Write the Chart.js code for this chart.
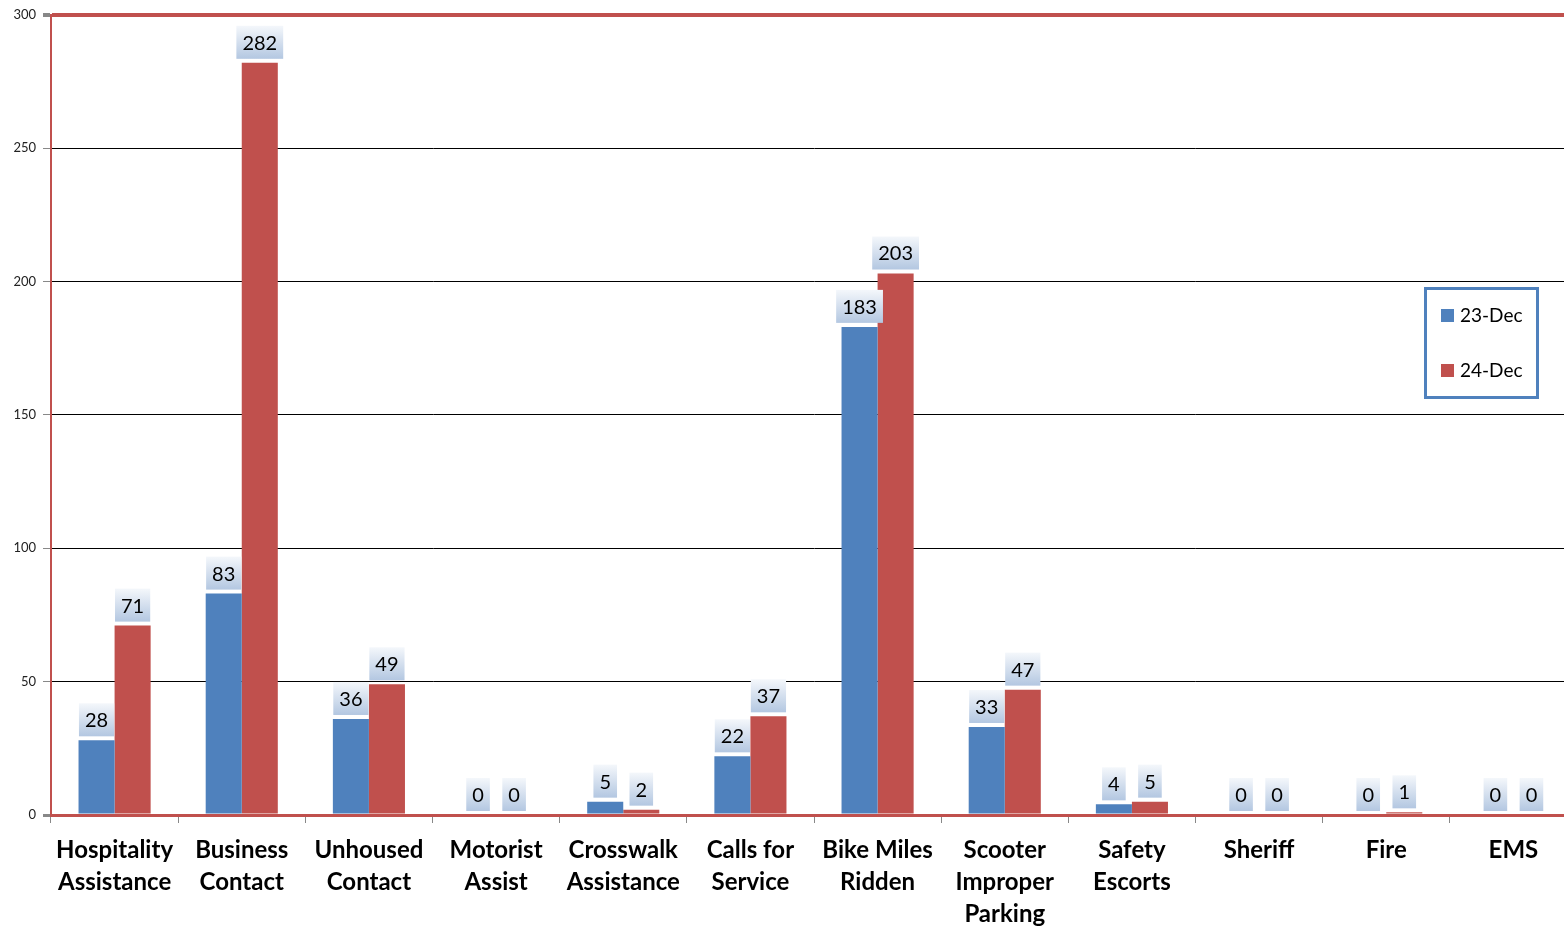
<!DOCTYPE html>
<html>
<head>
<meta charset="utf-8">
<script src="https://cdn.jsdelivr.net/npm/chart.js@4.4.1/dist/chart.umd.min.js"></script>
<style>
html,body{margin:0;padding:0;background:#fff;overflow:hidden;width:1564px;height:927px;}
canvas{display:block;}
</style>
</head>
<body>
<canvas id="c" width="1600" height="927"></canvas>
<script>
const categories = [
  ["Hospitality","Assistance"],
  ["Business","Contact"],
  ["Unhoused","Contact"],
  ["Motorist","Assist"],
  ["Crosswalk","Assistance"],
  ["Calls for","Service"],
  ["Bike Miles","Ridden"],
  ["Scooter","Improper","Parking"],
  ["Safety","Escorts"],
  ["Sheriff"],
  ["Fire"],
  ["EMS"]
];
const seriesNames = ["23-Dec","24-Dec"];
const dec23 = [28, 83, 36, 0, 5, 22, 183, 33, 4, 0, 0, 0];
const dec24 = [71, 282, 49, 0, 2, 37, 203, 47, 5, 0, 1, 0];
const yTicks = [0, 50, 100, 150, 200, 250, 300];

const BLUE = '#4f81bd', RED = '#c0504d';

const labelPlugin = {
  id: 'valueBoxes',
  afterDatasetsDraw(chart) {
    const ctx = chart.ctx;
    ctx.save();
    ctx.font = '20px Lato, "Open Sans", sans-serif';
    ctx.textAlign = 'center';
    ctx.textBaseline = 'middle';
    chart.data.datasets.forEach((ds, di) => {
      const meta = chart.getDatasetMeta(di);
      meta.data.forEach((el, i) => {
        const txt = String(ds.data[i]);
        const w = ctx.measureText(txt).width + 12;
        const h = 33;
        const bottom = el.y - 4;
        const top = bottom - h;
        const g = ctx.createLinearGradient(0, top, 0, bottom);
        g.addColorStop(0, '#f4f7fb');
        g.addColorStop(1, '#b3c7e1');
        ctx.fillStyle = g;
        ctx.fillRect(el.x - w / 2, top, w, h);
        ctx.fillStyle = '#000';
        ctx.fillText(txt, el.x, top + h / 2 + 1);
      });
    });
    ctx.restore();
  }
};

const legendPlugin = {
  id: 'boxLegend',
  afterDraw(chart) {
    const ctx = chart.ctx;
    ctx.save();
    ctx.strokeStyle = BLUE;
    ctx.lineWidth = 3;
    ctx.strokeRect(1425.5, 288.5, 112, 109);
    ctx.font = '19px Lato, "Open Sans", sans-serif';
    ctx.textAlign = 'left';
    ctx.textBaseline = 'middle';
    const ys = [315, 370];
    chart.data.datasets.forEach((ds, i) => {
      ctx.fillStyle = ds.backgroundColor;
      ctx.fillRect(1441, ys[i] - 6, 13, 13);
      ctx.fillStyle = '#000';
      ctx.fillText(ds.label, 1460, ys[i] + 1);
    });
    ctx.restore();
  }
};

new Chart(document.getElementById('c'), {
  type: 'bar',
  data: {
    labels: categories,
    datasets: [
      { label: seriesNames[0], data: dec23, backgroundColor: BLUE, borderWidth: 0 },
      { label: seriesNames[1], data: dec24, backgroundColor: RED, borderWidth: 0 }
    ]
  },
  options: {
    responsive: false,
    devicePixelRatio: 1,
    animation: false,
    layout: { padding: { top: 14, right: 23, left: 0, bottom: 0 } },
    datasets: { bar: { barPercentage: 1, categoryPercentage: 0.567 } },
    plugins: { legend: { display: false }, tooltip: { enabled: false }, title: { display: false } },
    scales: {
      x: {
        afterFit(s) { s.height = 112; },
        grid: { offset: true, drawOnChartArea: false, tickLength: 8, tickColor: '#888', lineWidth: 1 },
        border: { color: RED, width: 3 },
        ticks: {
          color: '#000',
          padding: 11,
          maxRotation: 0,
          autoSkip: false,
          font: { family: 'Lato, "Open Sans", sans-serif', size: 24, weight: 'bold', lineHeight: 1.333 }
        }
      },
      y: {
        min: 0, max: 300,
        afterFit(s) { s.width = 51; },
        afterBuildTicks(s) { s.ticks = yTicks.map(v => ({ value: v })); },
        grid: {
          color: c => (c.tick && (c.tick.value === 300 || c.tick.value === 0)) ? RED : '#000',
          lineWidth: c => (c.tick && c.tick.value === 300) ? 4 : (c.tick && c.tick.value === 0 ? 3 : 1),
          tickColor: '#888',
          tickLength: 8
        },
        border: { color: RED, width: 2 },
        ticks: { color: '#222', padding: 7, font: { family: 'Lato, "Open Sans", sans-serif', size: 13 } }
      }
    }
  },
  plugins: [labelPlugin, legendPlugin]
});
</script>
</body>
</html>
